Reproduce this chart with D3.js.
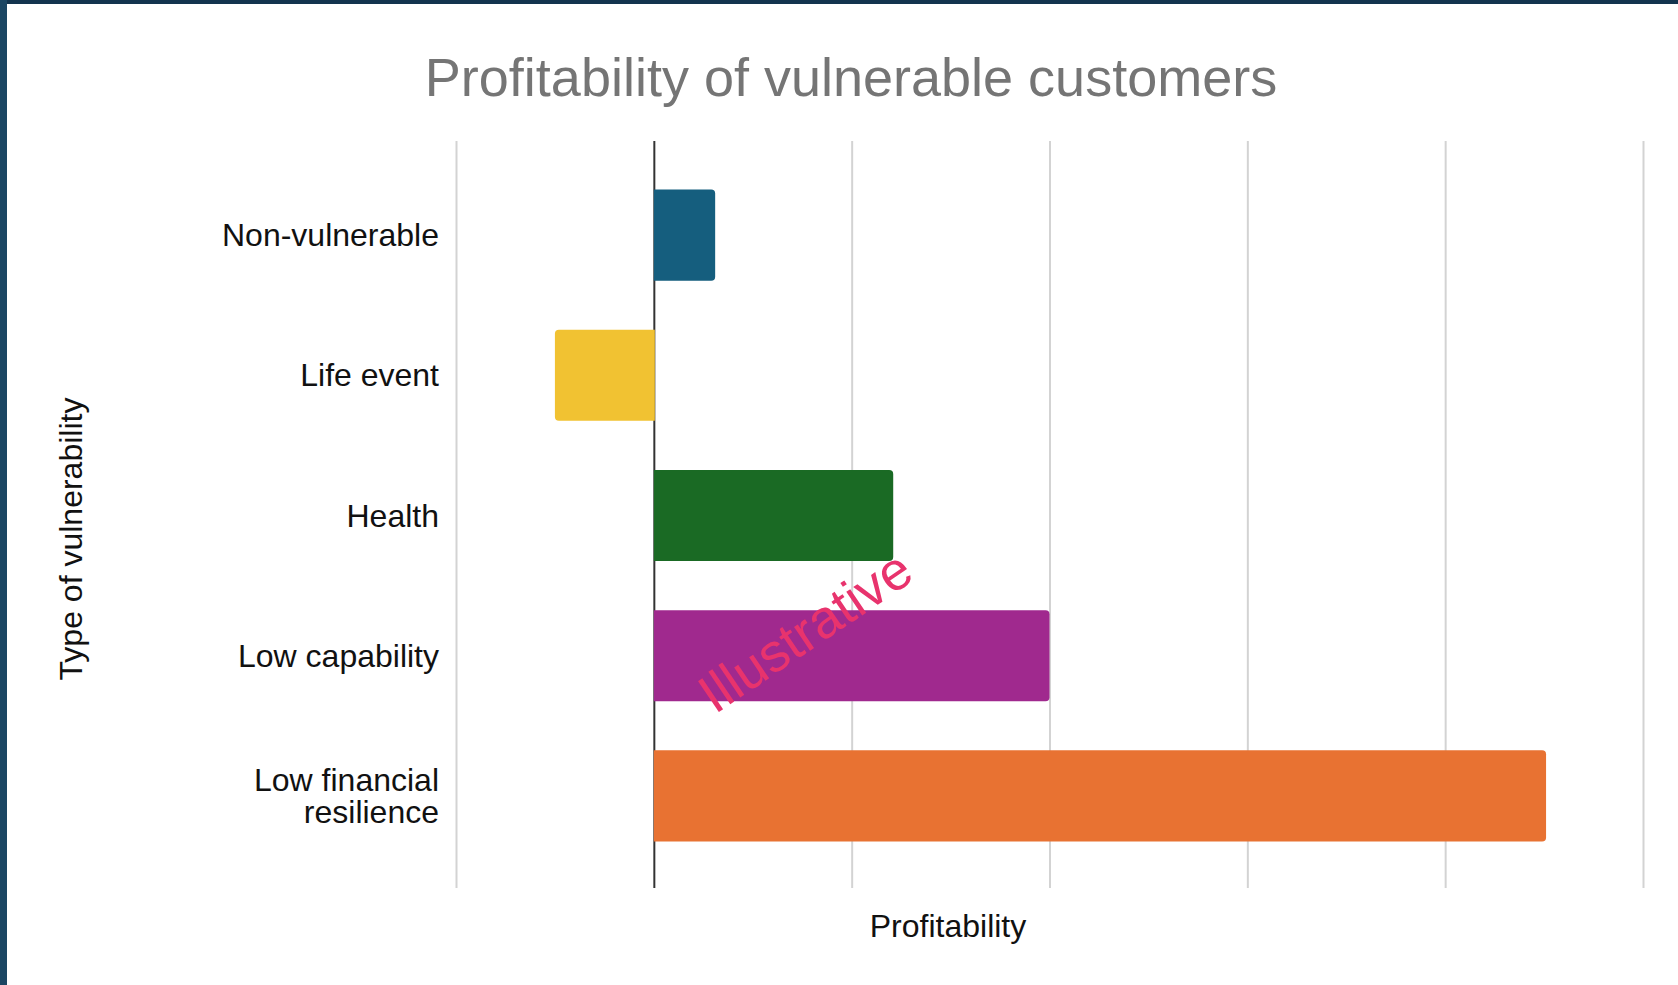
<!DOCTYPE html>
<html>
<head>
<meta charset="utf-8">
<script src="https://cdn.jsdelivr.net/npm/d3@7"></script>
<style>
  html, body { margin: 0; padding: 0; background: #ffffff; }
  #chart { width: 1678px; height: 985px; }
  text { font-family: "Liberation Sans", Arial, sans-serif; }
</style>
</head>
<body>
<div id="chart"></div>
<script>
// chart data
var categories = ["Non-vulnerable", "Life event", "Health", "Low capability", "Low financial resilience"];
var labelLines = [["Non-vulnerable"], ["Life event"], ["Health"], ["Low capability"], ["Low financial", "resilience"]];
var profitability = [0.31, -0.50, 1.21, 2.00, 4.51];
var barColors = ["#155e7e", "#f1c232", "#1a6a24", "#a0298e", "#e87232"];
var xDomain = [-1, 5];

var width = 1678, height = 985;
var left = 456, right = 1643, gridTop = 141, gridBottom = 888;

var svg = d3.select("#chart").append("svg")
    .attr("width", width)
    .attr("height", height);

// frame
svg.append("rect").attr("x", 0).attr("y", 0).attr("width", width).attr("height", height).attr("fill", "#ffffff");
svg.append("rect").attr("x", 0).attr("y", 0).attr("width", width).attr("height", 4).attr("fill", "#13344e");
svg.append("rect").attr("x", 0).attr("y", 0).attr("width", 7).attr("height", height).attr("fill", "#1b4663");

var x = d3.scaleLinear().domain(xDomain).range([left, right]);
var y = d3.scaleBand().domain(categories).range([165, 866]).paddingInner(0.35).paddingOuter(0.175);

// title
svg.append("text")
    .attr("x", 851).attr("y", 96)
    .attr("text-anchor", "middle")
    .attr("font-size", "54px")
    .attr("fill", "#757575")
    .text("Profitability of vulnerable customers");

// gridlines
var grid = svg.append("g")
    .attr("transform", "translate(0," + gridBottom + ")")
    .call(d3.axisBottom(x).ticks(6).tickSize(-(gridBottom - gridTop)).tickFormat(""));
grid.select(".domain").remove();
grid.selectAll(".tick line")
    .attr("stroke", d => d === 0 ? "#333333" : "#d3d3d3")
    .attr("stroke-width", 2);

// bars, rounded on the outer end only
function barPath(d, i) {
    var r = 4;
    var y0 = y(categories[i]), h = y.bandwidth();
    var x0 = x(0), x1 = x(d);
    if (d >= 0) {
        return "M" + x0 + "," + y0 + "H" + (x1 - r) + "Q" + x1 + "," + y0 + " " + x1 + "," + (y0 + r) +
            "V" + (y0 + h - r) + "Q" + x1 + "," + (y0 + h) + " " + (x1 - r) + "," + (y0 + h) + "H" + x0 + "Z";
    }
    return "M" + (x0 + 1) + "," + y0 + "H" + (x1 + r) + "Q" + x1 + "," + y0 + " " + x1 + "," + (y0 + r) +
        "V" + (y0 + h - r) + "Q" + x1 + "," + (y0 + h) + " " + (x1 + r) + "," + (y0 + h) + "H" + (x0 + 1) + "Z";
}

svg.selectAll(".bar")
    .data(profitability)
    .enter()
    .append("path")
    .attr("class", "bar")
    .attr("d", barPath)
    .attr("fill", (d, i) => barColors[i]);

// category labels
var labels = svg.selectAll(".cat-label")
    .data(categories)
    .enter()
    .append("text")
    .attr("class", "cat-label")
    .attr("text-anchor", "end")
    .attr("font-size", "32px")
    .attr("fill", "#111111");

labels.each(function(d, i) {
    var lines = labelLines[i];
    var cy = y(d) + y.bandwidth() / 2;
    var lh = 32;
    var start = cy - (lines.length - 1) * lh / 2 + 11;
    d3.select(this).selectAll("tspan")
        .data(lines)
        .enter()
        .append("tspan")
        .attr("x", 439)
        .attr("y", (l, j) => start + j * lh)
        .text(l => l);
});

// axis titles
svg.append("text")
    .attr("x", 948).attr("y", 937)
    .attr("text-anchor", "middle")
    .attr("font-size", "32px")
    .attr("fill", "#111111")
    .text("Profitability");

svg.append("text")
    .attr("transform", "translate(82,539) rotate(-90)")
    .attr("text-anchor", "middle")
    .attr("font-size", "32px")
    .attr("fill", "#111111")
    .text("Type of vulnerability");

// watermark
svg.append("text")
    .attr("transform", "translate(805,631) rotate(-34)")
    .attr("text-anchor", "middle")
    .attr("dominant-baseline", "central")
    .attr("font-size", "54px")
    .attr("fill", "#e8336d")
    .text("Illustrative");
</script>
</body>
</html>
